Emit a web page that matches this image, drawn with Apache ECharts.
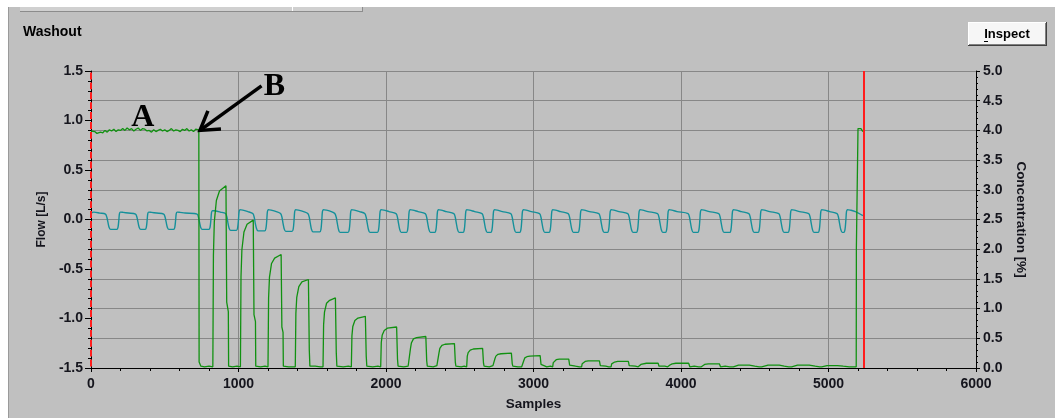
<!DOCTYPE html>
<html>
<head>
<meta charset="utf-8">
<title>Washout</title>
<script src="https://cdn.jsdelivr.net/npm/echarts@6/dist/echarts.min.js"></script>
<style>
  html, body { margin: 0; padding: 0; background: #ffffff; }
  #chart { width: 1055px; height: 418px; }
</style>
</head>
<body>
<div id="chart"></div>
<script>
// Axis ranges: [min, max, step]
const sampleRange = [0, 6000, 1000];
const flowRange = [-1.5, 1.5, 0.5];
const concRange = [0, 5, 0.5];

// Cursor positions (samples)
const cursorSamples = [0, 5236];

// Tracer concentration [%] before the washout starts (A)
const concBeforeWashout = [
  [0,3.99],[10,4.01],[25,3.98],[40,3.95],[52,3.93],[65,3.97],[80,3.96],[95,4.0],[110,3.97],[125,4.01],
  [140,3.99],[155,4.02],[170,3.98],[185,4.01],[200,4.0],[215,4.03],[230,4.0],[245,4.04],[260,4.01],[275,4.03],
  [290,3.99],[305,4.02],[320,4.04],[335,4.0],[350,4.03],[365,4.02],[380,3.99],[395,4.0],[410,3.97],[425,4.01],
  [440,3.98],[455,4.0],[470,4.02],[485,3.99],[500,4.01],[515,3.98],[530,4.0],[545,4.03],[560,3.99],[575,4.01],
  [590,4.0],[605,3.98],[620,4.02],[635,4.0],[650,4.03],[665,3.99],[680,4.01],[695,3.98],[710,4.02],[722,4.0],[731,4.01]
];

// Tracer concentration [%] during the washout breaths (from B)
const concWashout = [
  [733,0.1],[745,0.03],[770,0.02],[800,0.03],
  [826,0.02],[830,1.9],[836,2.46],[850,2.82],[871,2.98],[915,3.07],[919,3.07],[920,1.11],[931,0.95],[933,0.03],
  [960,0.02],[990,0.03],
  [1013,0.02],[1017,1.54],[1023,1.99],[1037,2.29],[1058,2.42],[1100,2.49],[1104,2.49],[1105,0.9],[1115,0.78],[1117,0.03],
  [1150,0.02],[1180,0.03],
  [1200,0.02],[1204,1.18],[1210,1.53],[1224,1.76],[1245,1.85],[1289,1.91],[1293,1.91],[1294,0.69],[1302,0.6],[1304,0.03],
  [1340,0.02],[1370,0.02],
  [1385,0.02],[1389,0.92],[1395,1.19],[1409,1.37],[1430,1.45],[1474,1.49],[1478,1.49],[1480,0.3],[1484,0.03],
  [1520,0.03],[1555,0.02],
  [1573,0.02],[1577,0.73],[1583,0.94],[1597,1.09],[1618,1.14],[1657,1.18],[1661,1.18],[1663,0.25],[1667,0.03],
  [1710,0.02],[1745,0.03],
  [1765,0.02],[1769,0.54],[1775,0.7],[1789,0.8],[1810,0.84],[1860,0.87],[1864,0.87],[1866,0.2],[1870,0.03],
  [1910,0.02],[1945,0.03],
  [1964,0.02],[1968,0.43],[1974,0.55],[1988,0.63],[2009,0.67],[2072,0.69],[2076,0.69],[2078,0.15],[2082,0.03],
  [2120,0.02],[2150,0.03],
  [2162,0.02],[2166,0.33],[2172,0.42],[2186,0.49],[2207,0.51],[2270,0.53],[2274,0.53],[2276,0.12],[2280,0.03],
  [2320,0.02],[2345,0.04],
  [2355,0.02],[2359,0.25],[2365,0.33],[2379,0.38],[2400,0.4],[2464,0.41],[2468,0.41],[2470,0.1],[2474,0.03],
  [2510,0.02],[2530,0.03],
  [2547,0.02],[2551,0.2],[2557,0.26],[2571,0.3],[2592,0.32],[2655,0.33],[2659,0.33],[2661,0.08],[2665,0.03],
  [2700,0.02],[2725,0.04],
  [2735,0.02],[2739,0.16],[2745,0.2],[2759,0.23],[2780,0.24],[2850,0.25],[2854,0.25],[2856,0.07],[2860,0.03],
  [2895,0.02],[2920,0.02],
  [2931,0.02],[2935,0.13],[2941,0.17],[2955,0.19],[2976,0.2],[3045,0.21],[3049,0.21],[3051,0.06],[3055,0.03],
  [3090,0.02],[3115,0.03],
  [3130,0.02],[3134,0.09],[3140,0.12],[3154,0.14],[3175,0.15],[3239,0.15],[3243,0.15],[3245,0.05],[3249,0.02],
  [3285,0.03],[3310,0.02],
  [3326,0.02],[3330,0.07],[3336,0.1],[3350,0.11],[3371,0.12],[3447,0.12],[3451,0.12],[3453,0.04],[3457,0.02],
  [3490,0.03],[3510,0.02],
  [3526,0.02],[3530,0.07],[3536,0.09],[3550,0.1],[3571,0.11],[3643,0.11],[3647,0.11],[3649,0.04],[3653,0.02],
  [3690,0.03],[3710,0.02],
  [3722,0.02],[3728,0.06],[3740,0.07],[3765,0.08],[3845,0.08],[3849,0.08],[3851,0.03],[3855,0.02],
  [3890,0.03],[3910,0.02],
  [3919,0.02],[3925,0.05],[3940,0.07],[3965,0.08],[4052,0.08],[4056,0.07],[4060,0.02],
  [4090,0.03],[4120,0.02],
  [4138,0.02],[4144,0.05],[4160,0.06],[4185,0.07],[4260,0.07],[4264,0.06],[4268,0.02],
  [4300,0.03],[4330,0.02],
  [4355,0.02],[4365,0.04],[4390,0.05],[4463,0.05],[4468,0.02],
  [4500,0.03],[4530,0.02],
  [4547,0.02],[4558,0.04],[4590,0.05],[4666,0.05],[4671,0.02],
  [4700,0.03],[4730,0.02],
  [4750,0.02],[4762,0.04],[4790,0.05],[4869,0.05],[4874,0.02],
  [4910,0.03],[4940,0.02],
  [4954,0.02],[4965,0.03],[4990,0.04],[5061,0.04],[5066,0.02],
  [5100,0.03],[5140,0.02],[5188,0.02]
];

// Tracer concentration [%] when the tracer is switched back on
const concRefill = [
  [5189,2.03],[5199,2.03],[5200,4.03],[5212,4.0],[5220,4.03],[5233,3.98]
];

// Flow [L/s], breath by breath
const flowTrace = [
  [0,0.04],[6,0.07],[20,0.075],[60,0.065],[98,0.055],
  [108,0.02],[115,-0.03],[123,-0.08],[133,-0.10],[175,-0.10],[183,-0.08],[189,0.0],[193,0.06],[199,0.075],[218,0.072],[253,0.065],[302,0.055],
  [312,0.02],[319,-0.03],[327,-0.08],[337,-0.10],[367,-0.10],[375,-0.08],[381,0.0],[385,0.06],[391,0.075],[410,0.072],[445,0.065],[493,0.055],
  [503,0.02],[510,-0.03],[518,-0.08],[528,-0.10],[560,-0.10],[568,-0.08],[574,0.0],[578,0.06],[584,0.075],[603,0.072],[638,0.065],[719,0.055],
  [729,0.02],[736,-0.03],[744,-0.08],[754,-0.10],[799,-0.10],[807,-0.08],[813,0.0],[817,0.07],[823,0.09],[842,0.088],[877,0.075],[912,0.06],
  [922,0.02],[929,-0.04],[937,-0.09],[947,-0.11],[986,-0.11],[994,-0.085],[1000,0.0],[1004,0.08],[1010,0.10],[1029,0.095],[1064,0.08],[1097,0.06],
  [1107,0.02],[1114,-0.04],[1122,-0.09],[1132,-0.115],[1178,-0.115],[1186,-0.09],[1192,0.0],[1196,0.08],[1202,0.10],[1221,0.095],[1256,0.08],[1285,0.06],
  [1295,0.02],[1302,-0.04],[1310,-0.095],[1320,-0.12],[1363,-0.12],[1371,-0.095],[1377,0.0],[1381,0.08],[1387,0.10],[1406,0.095],[1441,0.08],[1470,0.06],
  [1480,0.02],[1487,-0.04],[1495,-0.1],[1505,-0.125],[1551,-0.125],[1559,-0.1],[1565,0.0],[1569,0.08],[1575,0.10],[1594,0.095],[1629,0.08],[1653,0.06],
  [1663,0.02],[1670,-0.04],[1678,-0.1],[1688,-0.13],[1743,-0.13],[1751,-0.1],[1757,0.0],[1761,0.08],[1767,0.10],[1786,0.095],[1821,0.08],[1856,0.06],
  [1866,0.02],[1873,-0.04],[1881,-0.1],[1891,-0.13],[1942,-0.13],[1950,-0.1],[1956,0.0],[1960,0.08],[1966,0.10],[1985,0.095],[2020,0.08],[2068,0.06],
  [2078,0.02],[2085,-0.04],[2093,-0.1],[2103,-0.13],[2139,-0.13],[2147,-0.1],[2153,0.0],[2157,0.08],[2163,0.10],[2182,0.095],[2217,0.08],[2266,0.06],
  [2276,0.02],[2283,-0.04],[2291,-0.1],[2301,-0.13],[2331,-0.13],[2339,-0.1],[2345,0.0],[2349,0.08],[2355,0.10],[2374,0.095],[2409,0.08],[2460,0.06],
  [2470,0.02],[2477,-0.04],[2485,-0.1],[2495,-0.13],[2523,-0.13],[2531,-0.1],[2537,0.0],[2541,0.08],[2547,0.10],[2566,0.095],[2601,0.08],[2651,0.06],
  [2661,0.02],[2668,-0.04],[2676,-0.1],[2686,-0.13],[2711,-0.13],[2719,-0.1],[2725,0.0],[2729,0.08],[2735,0.10],[2754,0.095],[2789,0.08],[2846,0.06],
  [2856,0.02],[2863,-0.04],[2871,-0.1],[2881,-0.13],[2907,-0.13],[2915,-0.1],[2921,0.0],[2925,0.08],[2931,0.10],[2950,0.095],[2985,0.08],[3041,0.06],
  [3051,0.02],[3058,-0.04],[3066,-0.1],[3076,-0.13],[3106,-0.13],[3114,-0.1],[3120,0.0],[3124,0.08],[3130,0.10],[3149,0.095],[3184,0.08],[3235,0.06],
  [3245,0.02],[3252,-0.04],[3260,-0.1],[3270,-0.13],[3302,-0.13],[3310,-0.1],[3316,0.0],[3320,0.08],[3326,0.10],[3345,0.095],[3380,0.08],[3443,0.06],
  [3453,0.02],[3460,-0.04],[3468,-0.1],[3478,-0.13],[3502,-0.13],[3510,-0.1],[3516,0.0],[3520,0.08],[3526,0.10],[3545,0.095],[3580,0.08],[3639,0.06],
  [3649,0.02],[3656,-0.04],[3664,-0.1],[3674,-0.13],[3698,-0.13],[3706,-0.1],[3712,0.0],[3716,0.08],[3722,0.10],[3741,0.095],[3776,0.08],[3841,0.06],
  [3851,0.02],[3858,-0.04],[3866,-0.1],[3876,-0.13],[3895,-0.13],[3903,-0.1],[3909,0.0],[3913,0.08],[3919,0.10],[3938,0.095],[3973,0.08],[4048,0.06],
  [4058,0.02],[4065,-0.04],[4073,-0.1],[4083,-0.13],[4114,-0.13],[4122,-0.1],[4128,0.0],[4132,0.08],[4138,0.10],[4157,0.095],[4192,0.08],[4256,0.06],
  [4266,0.02],[4273,-0.04],[4281,-0.1],[4291,-0.13],[4331,-0.13],[4339,-0.1],[4345,0.0],[4349,0.08],[4355,0.10],[4374,0.095],[4409,0.08],[4460,0.06],
  [4470,0.02],[4477,-0.04],[4485,-0.1],[4495,-0.13],[4523,-0.13],[4531,-0.1],[4537,0.0],[4541,0.08],[4547,0.10],[4566,0.095],[4601,0.08],[4663,0.06],
  [4673,0.02],[4680,-0.04],[4688,-0.1],[4698,-0.13],[4726,-0.13],[4734,-0.1],[4740,0.0],[4744,0.08],[4750,0.10],[4769,0.095],[4804,0.08],[4866,0.06],
  [4876,0.02],[4883,-0.04],[4891,-0.1],[4901,-0.13],[4930,-0.13],[4938,-0.1],[4944,0.0],[4948,0.08],[4954,0.10],[4973,0.095],[5008,0.08],[5058,0.06],
  [5068,0.02],[5075,-0.04],[5083,-0.1],[5093,-0.13],[5104,-0.13],[5112,-0.1],[5118,0.0],[5122,0.08],[5128,0.10],[5147,0.095],[5182,0.08],[5233,0.04]
];

// Annotation anchors in [sample, concentration %]
const labelA = { text: 'A', at: [351, 4.22] };
const labelB = { text: 'B', at: [1244, 4.74] };
const arrowB = { tail: [1156, 4.75], tip: [739, 4.0] };

const FONT = '"Liberation Sans", Arial, Helvetica, sans-serif';
const INK = '#15151d';
const GRID_GREY = '#878787';

const tickLabel = { color: INK, fontSize: 14, fontWeight: 'bold', fontFamily: FONT };

const chart = echarts.init(document.getElementById('chart'), null, { renderer: 'canvas' });

const option = {
  animation: false,
  backgroundColor: 'transparent',
  grid: { left: 91, right: 79, top: 71, bottom: 50, containLabel: false },
  xAxis: {
    type: 'value',
    min: sampleRange[0], max: sampleRange[1], interval: sampleRange[2],
    name: 'Samples',
    nameLocation: 'middle',
    nameGap: 29,
    nameTextStyle: { color: INK, fontSize: 13.5, fontWeight: 'bold', fontFamily: FONT },
    axisLine: { onZero: false, lineStyle: { color: '#000', width: 1 } },
    axisTick: { show: true, length: 4, lineStyle: { color: '#000' } },
    minorTick: { show: true, splitNumber: 5, length: 3, lineStyle: { color: '#000' } },
    axisLabel: Object.assign({ margin: 9, formatter: v => String(v) }, tickLabel),
    splitLine: { show: true, lineStyle: { color: GRID_GREY, width: 1 } }
  },
  yAxis: [
    {
      type: 'value',
      position: 'left',
      min: flowRange[0], max: flowRange[1], interval: flowRange[2],
      name: 'Flow [L/s]',
      nameLocation: 'middle',
      nameRotate: 90,
      nameGap: 40,
      nameTextStyle: { color: INK, fontSize: 12, fontWeight: 'bold', fontFamily: FONT },
      axisLine: { show: true, onZero: false, lineStyle: { color: '#000', width: 1 } },
      axisTick: { show: true, length: 6, lineStyle: { color: '#000' } },
      minorTick: { show: true, splitNumber: 5, length: 3, lineStyle: { color: '#000' } },
      axisLabel: Object.assign({ margin: 8, formatter: v => v.toFixed(1) }, tickLabel),
      splitLine: { show: false }
    },
    {
      type: 'value',
      position: 'right',
      min: concRange[0], max: concRange[1], interval: concRange[2],
      name: 'Concentration [%]',
      nameLocation: 'middle',
      nameRotate: -90,
      nameGap: 34,
      nameTextStyle: { color: INK, fontSize: 13.5, fontWeight: 'bold', fontFamily: FONT },
      axisLine: { show: true, onZero: false, lineStyle: { color: '#000', width: 1 } },
      axisTick: { show: true, length: 4, lineStyle: { color: '#000' } },
      minorTick: { show: true, splitNumber: 5, length: 2, lineStyle: { color: '#000' } },
      axisLabel: Object.assign({ margin: 7, formatter: v => v.toFixed(1) }, tickLabel),
      splitLine: { show: true, lineStyle: { color: GRID_GREY, width: 1 } }
    }
  ],
  series: [
    {
      name: 'Flow',
      type: 'line',
      yAxisIndex: 0,
      data: flowTrace,
      showSymbol: false,
      symbol: 'none',
      smooth: 0.3,
      lineStyle: { color: '#15909a', width: 1.4 },
      emphasis: { disabled: true },
      z: 3
    },
    {
      name: 'Concentration',
      type: 'line',
      yAxisIndex: 1,
      data: concBeforeWashout.concat(concWashout, concRefill),
      showSymbol: false,
      symbol: 'none',
      smooth: false,
      lineStyle: { color: '#119111', width: 1.3 },
      emphasis: { disabled: true },
      z: 4,
      markLine: {
        silent: true,
        symbol: ['none', 'none'],
        animation: false,
        label: { show: false },
        data: cursorSamples.map((s, i) => ({
          xAxis: s,
          lineStyle: i === 0
            ? { color: '#ff1c1c', width: 2, type: [6.9, 3], dashOffset: 8.4 }
            : { color: '#ff1c1c', width: 2, type: 'solid' }
        }))
      }
    }
  ]
};

chart.setOption(option);

// Window chrome and annotations
const toPx = p => chart.convertToPixel({ xAxisIndex: 0, yAxisIndex: 1 }, p);
const pA = toPx(labelA.at);
const pB = toPx(labelB.at);
const tip = toPx(arrowB.tip);
const tail = toPx(arrowB.tail);
const ang = Math.atan2(tail[1] - tip[1], tail[0] - tip[0]);
const headLen = 21, spread = 32 * Math.PI / 180;
const barb1 = [tip[0] + headLen * Math.cos(ang - spread), tip[1] + headLen * Math.sin(ang - spread)];
const barb2 = [tip[0] + headLen * Math.cos(ang + spread), tip[1] + headLen * Math.sin(ang + spread)];

const letterFont = 'bold 32px "Liberation Serif", "Times New Roman", serif';

chart.setOption({
  graphic: [
    // grey panel behind the plot
    { type: 'rect', z: -10, silent: true, shape: { x: 8, y: 7, width: 1047, height: 411 }, style: { fill: '#c0c0c0' } },
    { type: 'line', z: -9, silent: true, shape: { x1: 8.5, y1: 7, x2: 8.5, y2: 418 }, style: { stroke: '#9a9a9a', lineWidth: 1 } },
    // bottom edges of the two controls above the panel
    { type: 'rect', z: -9, silent: true, shape: { x: 20, y: 7, width: 343, height: 4 }, style: { fill: '#d0d0d0' } },
    { type: 'line', z: -9, silent: true, shape: { x1: 20, y1: 11.5, x2: 363, y2: 11.5 }, style: { stroke: '#8c8c8c', lineWidth: 1 } },
    { type: 'line', z: -9, silent: true, shape: { x1: 362.5, y1: 7, x2: 362.5, y2: 12 }, style: { stroke: '#8c8c8c', lineWidth: 1 } },
    { type: 'line', z: -9, silent: true, shape: { x1: 292.5, y1: 7, x2: 292.5, y2: 11 }, style: { stroke: '#ffffff', lineWidth: 1 } },
    // panel title
    { type: 'text', silent: true, x: 23, y: 32, style: { text: 'Washout', font: 'bold 14px ' + FONT, fill: '#000', verticalAlign: 'middle' } },
    // Inspect button
    { type: 'rect', silent: true, shape: { x: 968, y: 22, width: 79, height: 24 }, style: { fill: '#404040' } },
    { type: 'rect', silent: true, shape: { x: 968, y: 22, width: 78, height: 23 }, style: { fill: '#ffffff' } },
    { type: 'rect', silent: true, shape: { x: 969, y: 23, width: 77, height: 22 }, style: { fill: '#808080' } },
    { type: 'rect', silent: true, shape: { x: 969, y: 23, width: 76, height: 21 }, style: { fill: '#f6f6f6' } },
    { type: 'text', silent: true, x: 1007, y: 34.5, style: { text: 'Inspect', font: 'bold 13px ' + FONT, fill: '#000', align: 'center', verticalAlign: 'middle' } },
    { type: 'line', silent: true, shape: { x1: 984, y1: 41.5, x2: 988, y2: 41.5 }, style: { stroke: '#000', lineWidth: 1 } },
    // annotation letters and arrow
    { type: 'text', silent: true, z: 20, x: pA[0], y: pA[1], style: { text: labelA.text, font: letterFont, fill: '#000', align: 'center', verticalAlign: 'middle' } },
    { type: 'text', silent: true, z: 20, x: pB[0], y: pB[1], style: { text: labelB.text, font: letterFont, fill: '#000', align: 'center', verticalAlign: 'middle' } },
    { type: 'line', silent: true, z: 20, shape: { x1: tail[0], y1: tail[1], x2: tip[0] + 3 * Math.cos(ang), y2: tip[1] + 3 * Math.sin(ang) }, style: { stroke: '#000', lineWidth: 3.5 } },
    { type: 'polyline', silent: true, z: 20, shape: { points: [barb1, tip, barb2] }, style: { stroke: '#000', lineWidth: 3.5, fill: null, lineJoin: 'miter' } }
  ]
});
</script>
</body>
</html>
